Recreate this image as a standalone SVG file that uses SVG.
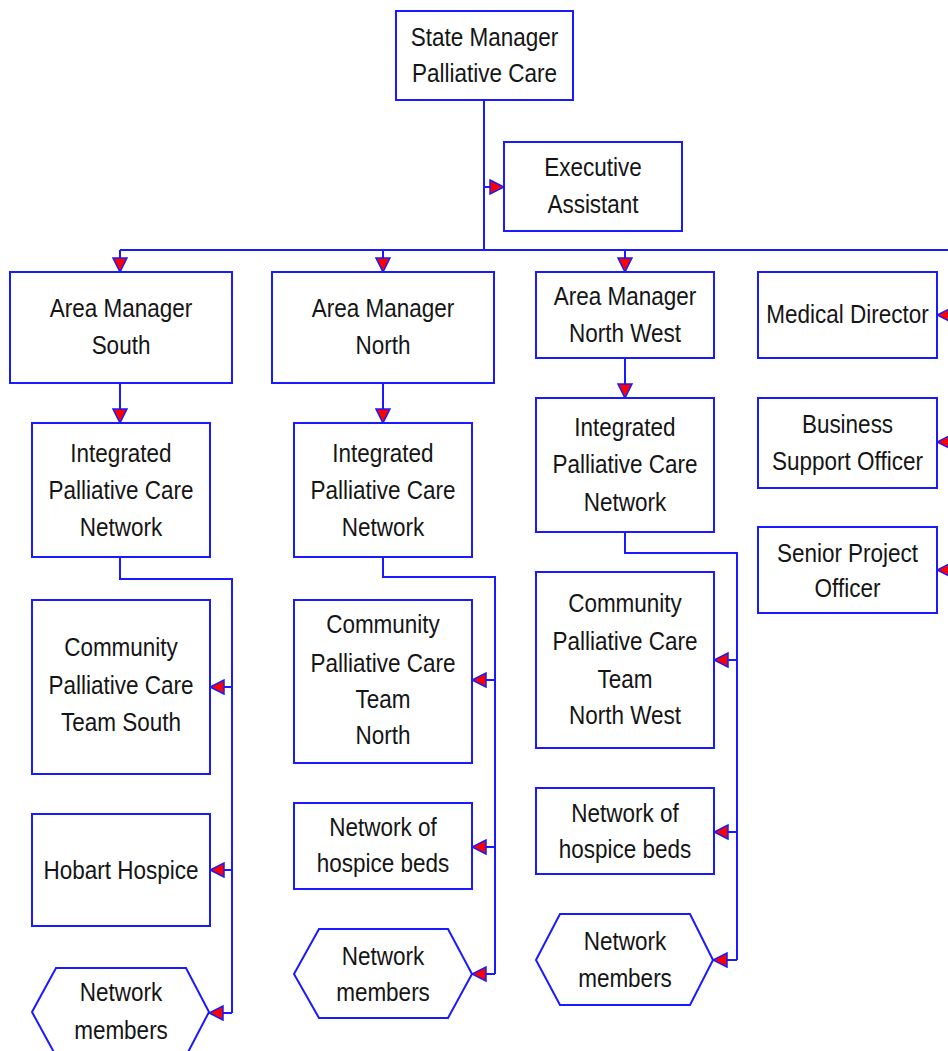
<svg xmlns="http://www.w3.org/2000/svg" width="948" height="1051" viewBox="0 0 948 1051">
  <defs>
    <style>
      .box { fill: #ffffff; stroke: #1a1aff; stroke-width: 2; }
      .wire { fill: none; stroke: #1a1aff; stroke-width: 2; }
      .lbl { font-family: "Liberation Sans", Arial, sans-serif; font-size: 25px; fill: #151515; text-anchor: middle; }
    </style>
    <marker id="arrow" viewBox="0 0 16 16" refX="15" refY="8" markerWidth="16" markerHeight="16" markerUnits="userSpaceOnUse" orient="auto">
      <path d="M1,1 L15,8 L1,15 Z" fill="#ff0000" stroke="#1a1aff" stroke-width="1.5" stroke-linejoin="miter"/>
    </marker>
  </defs>
  <rect width="948" height="1051" fill="#ffffff"/>

  <!-- connectors -->
  <g id="connectors">
    <path class="wire" d="M484,100 V250"/>
    <path class="wire" d="M120,250 H952"/>
    <path class="wire" d="M484,187 H504" marker-end="url(#arrow)"/>
    <path class="wire" d="M120,250 V272" marker-end="url(#arrow)"/>
    <path class="wire" d="M383,250 V272" marker-end="url(#arrow)"/>
    <path class="wire" d="M625,250 V272" marker-end="url(#arrow)"/>
    <path class="wire" d="M952,250 V570"/>
    <path class="wire" d="M952,315 H937" marker-end="url(#arrow)"/>
    <path class="wire" d="M952,442 H937" marker-end="url(#arrow)"/>
    <path class="wire" d="M952,570 H937" marker-end="url(#arrow)"/>

    <path class="wire" d="M120,383 V423" marker-end="url(#arrow)"/>
    <path class="wire" d="M120,557 V579 H232 V1013"/>
    <path class="wire" d="M232,687 H210" marker-end="url(#arrow)"/>
    <path class="wire" d="M232,870 H210" marker-end="url(#arrow)"/>
    <path class="wire" d="M232,1013 H209" marker-end="url(#arrow)"/>

    <path class="wire" d="M383,383 V423" marker-end="url(#arrow)"/>
    <path class="wire" d="M383,557 V577 H495 V974"/>
    <path class="wire" d="M495,680 H472" marker-end="url(#arrow)"/>
    <path class="wire" d="M495,847 H472" marker-end="url(#arrow)"/>
    <path class="wire" d="M495,974 H472" marker-end="url(#arrow)"/>

    <path class="wire" d="M625,358 V398" marker-end="url(#arrow)"/>
    <path class="wire" d="M625,532 V553 H737 V960"/>
    <path class="wire" d="M737,660 H714" marker-end="url(#arrow)"/>
    <path class="wire" d="M737,832 H714" marker-end="url(#arrow)"/>
    <path class="wire" d="M737,960 H713" marker-end="url(#arrow)"/>
  </g>

  <g id="state-manager">
    <rect class="box" x="396" y="11" width="177" height="89"/>
    <text class="lbl" transform="translate(484.5,0) scale(0.9,1)"><tspan x="0" y="46">State Manager</tspan><tspan x="0" y="82">Palliative Care</tspan></text>
  </g>
  <g id="executive-assistant">
    <rect class="box" x="504" y="142" width="178" height="89"/>
    <text class="lbl" transform="translate(593,0) scale(0.9,1)"><tspan x="0" y="176">Executive</tspan><tspan x="0" y="213">Assistant</tspan></text>
  </g>

  <g id="area-manager-south">
    <rect class="box" x="10" y="272" width="222" height="111"/>
    <text class="lbl" transform="translate(121,0) scale(0.9,1)"><tspan x="0" y="317">Area Manager</tspan><tspan x="0" y="354">South</tspan></text>
  </g>
  <g id="area-manager-north">
    <rect class="box" x="272" y="272" width="222" height="111"/>
    <text class="lbl" transform="translate(383,0) scale(0.9,1)"><tspan x="0" y="317">Area Manager</tspan><tspan x="0" y="354">North</tspan></text>
  </g>
  <g id="area-manager-north-west">
    <rect class="box" x="536" y="272" width="178" height="86"/>
    <text class="lbl" transform="translate(625,0) scale(0.9,1)"><tspan x="0" y="305">Area Manager</tspan><tspan x="0" y="342">North West</tspan></text>
  </g>

  <g id="medical-director">
    <rect class="box" x="758" y="272" width="179" height="86"/>
    <text class="lbl" transform="translate(847.5,0) scale(0.9,1)"><tspan x="0" y="323">Medical Director</tspan></text>
  </g>
  <g id="business-support-officer">
    <rect class="box" x="758" y="398" width="179" height="90"/>
    <text class="lbl" transform="translate(847.5,0) scale(0.9,1)"><tspan x="0" y="433">Business</tspan><tspan x="0" y="470">Support Officer</tspan></text>
  </g>
  <g id="senior-project-officer">
    <rect class="box" x="758" y="527" width="179" height="86"/>
    <text class="lbl" transform="translate(847.5,0) scale(0.9,1)"><tspan x="0" y="562">Senior Project</tspan><tspan x="0" y="597">Officer</tspan></text>
  </g>

  <g id="ipcn-south">
    <rect class="box" x="32" y="423" width="178" height="134"/>
    <text class="lbl" transform="translate(121,0) scale(0.9,1)"><tspan x="0" y="462">Integrated</tspan><tspan x="0" y="499">Palliative Care</tspan><tspan x="0" y="536">Network</tspan></text>
  </g>
  <g id="ipcn-north">
    <rect class="box" x="294" y="423" width="178" height="134"/>
    <text class="lbl" transform="translate(383,0) scale(0.9,1)"><tspan x="0" y="462">Integrated</tspan><tspan x="0" y="499">Palliative Care</tspan><tspan x="0" y="536">Network</tspan></text>
  </g>
  <g id="ipcn-north-west">
    <rect class="box" x="536" y="398" width="178" height="134"/>
    <text class="lbl" transform="translate(625,0) scale(0.9,1)"><tspan x="0" y="436">Integrated</tspan><tspan x="0" y="473">Palliative Care</tspan><tspan x="0" y="511">Network</tspan></text>
  </g>

  <g id="cpc-team-south">
    <rect class="box" x="32" y="600" width="178" height="174"/>
    <text class="lbl" transform="translate(121,0) scale(0.9,1)"><tspan x="0" y="656">Community</tspan><tspan x="0" y="694">Palliative Care</tspan><tspan x="0" y="731">Team South</tspan></text>
  </g>
  <g id="hobart-hospice">
    <rect class="box" x="32" y="814" width="178" height="112"/>
    <text class="lbl" transform="translate(121,0) scale(0.9,1)"><tspan x="0" y="879">Hobart Hospice</tspan></text>
  </g>
  <g id="network-members-south">
    <polygon class="box" points="32,1012 56,968 186,968 209,1012 186,1056 56,1056"/>
    <text class="lbl" transform="translate(121,0) scale(0.9,1)"><tspan x="0" y="1001">Network</tspan><tspan x="0" y="1039">members</tspan></text>
  </g>

  <g id="cpc-team-north">
    <rect class="box" x="294" y="600" width="178" height="163"/>
    <text class="lbl" transform="translate(383,0) scale(0.9,1)"><tspan x="0" y="633">Community</tspan><tspan x="0" y="672">Palliative Care</tspan><tspan x="0" y="708">Team</tspan><tspan x="0" y="744">North</tspan></text>
  </g>
  <g id="hospice-beds-north">
    <rect class="box" x="294" y="803" width="178" height="86"/>
    <text class="lbl" transform="translate(383,0) scale(0.9,1)"><tspan x="0" y="836">Network of</tspan><tspan x="0" y="872">hospice beds</tspan></text>
  </g>
  <g id="network-members-north">
    <polygon class="box" points="294,974 319,929 448,929 472,974 448,1018 319,1018"/>
    <text class="lbl" transform="translate(383,0) scale(0.9,1)"><tspan x="0" y="965">Network</tspan><tspan x="0" y="1001">members</tspan></text>
  </g>

  <g id="cpc-team-north-west">
    <rect class="box" x="536" y="572" width="178" height="176"/>
    <text class="lbl" transform="translate(625,0) scale(0.9,1)"><tspan x="0" y="612">Community</tspan><tspan x="0" y="650">Palliative Care</tspan><tspan x="0" y="688">Team</tspan><tspan x="0" y="724">North West</tspan></text>
  </g>
  <g id="hospice-beds-north-west">
    <rect class="box" x="536" y="788" width="178" height="86"/>
    <text class="lbl" transform="translate(625,0) scale(0.9,1)"><tspan x="0" y="822">Network of</tspan><tspan x="0" y="858">hospice beds</tspan></text>
  </g>
  <g id="network-members-north-west">
    <polygon class="box" points="536,960 560,914 690,914 713,960 690,1005 560,1005"/>
    <text class="lbl" transform="translate(625,0) scale(0.9,1)"><tspan x="0" y="950">Network</tspan><tspan x="0" y="987">members</tspan></text>
  </g>
</svg>
